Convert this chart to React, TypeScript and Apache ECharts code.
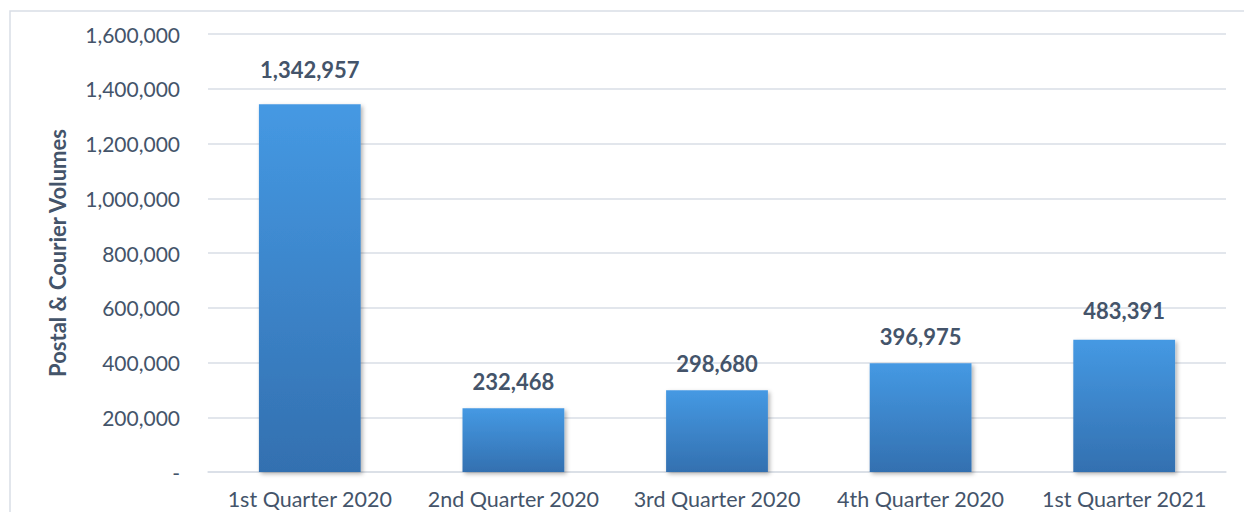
import React, { useEffect, useRef } from "react";
import * as echarts from "echarts";

const categories = [
  "1st Quarter 2020",
  "2nd Quarter 2020",
  "3rd Quarter 2020",
  "4th Quarter 2020",
  "1st Quarter 2021",
];
const volumes = [1342957, 232468, 298680, 396975, 483391];
const labelDistances = [24, 16, 16, 16, 18];

const TEXT = "#44546A";
const FONT = "Lato, 'Noto Sans', sans-serif";

export default function App() {
  const ref = useRef<HTMLDivElement>(null);
  useEffect(() => {
    document.body.style.margin = "0";
    if (!ref.current) return;
    const chart = echarts.init(ref.current, null, { renderer: "svg" });
    chart.setOption({
      animation: false,
      backgroundColor: "#ffffff",
      textStyle: { fontFamily: FONT },
      graphic: [
        {
          type: "rect",
          shape: { x: 10, y: 11, width: 1250, height: 520 },
          style: { fill: "none", stroke: "#D9DEE6", lineWidth: 1.5 },
          silent: true,
        },
      ],
      grid: { left: 208, right: 18, top: 34, bottom: 40 },
      xAxis: {
        type: "category",
        data: categories,
        axisLine: { show: true, lineStyle: { color: "#D9DEE6", width: 1.5 } },
        axisTick: { show: false },
        axisLabel: { color: TEXT, fontSize: 21.5, margin: 16, interval: 0, hideOverlap: false, fontFamily: FONT },
      },
      yAxis: {
        type: "value",
        min: 0,
        max: 1600000,
        interval: 200000,
        name: "Postal & Courier Volumes",
        nameLocation: "middle",
        nameGap: 140,
        nameRotate: 90,
        nameTextStyle: { color: TEXT, fontSize: 22, fontWeight: "bold", fontFamily: FONT },
        axisLine: { show: false },
        axisTick: { show: false },
        splitLine: { lineStyle: { color: "#D9DEE6", width: 1.5 } },
        axisLabel: {
          color: TEXT,
          fontSize: 21,
          margin: 28,
          fontFamily: FONT,
          formatter: (v: number) => (v === 0 ? "-" : v.toLocaleString("en-US")),
        },
      },
      series: [
        {
          type: "bar",
          barWidth: "50%",
          data: volumes.map((v, i) => ({
            value: v,
            label: { distance: labelDistances[i] },
          })),
          itemStyle: {
            color: new echarts.graphic.LinearGradient(0, 0, 0, 1, [
              { offset: 0, color: "#4599E3" },
              { offset: 1, color: "#3370B0" },
            ]),
            shadowColor: "rgba(0,0,0,0.3)",
            shadowBlur: 4,
            shadowOffsetX: 2,
            shadowOffsetY: 2,
          },
          label: {
            show: true,
            position: "top",
            color: TEXT,
            fontSize: 22,
            fontWeight: "bold",
            fontFamily: FONT,
            formatter: (p: any) => Number(p.value).toLocaleString("en-US"),
          },
        },
      ],
    });
    return () => chart.dispose();
  }, []);
  return <div ref={ref} style={{ width: 1244, height: 512 }} />;
}
